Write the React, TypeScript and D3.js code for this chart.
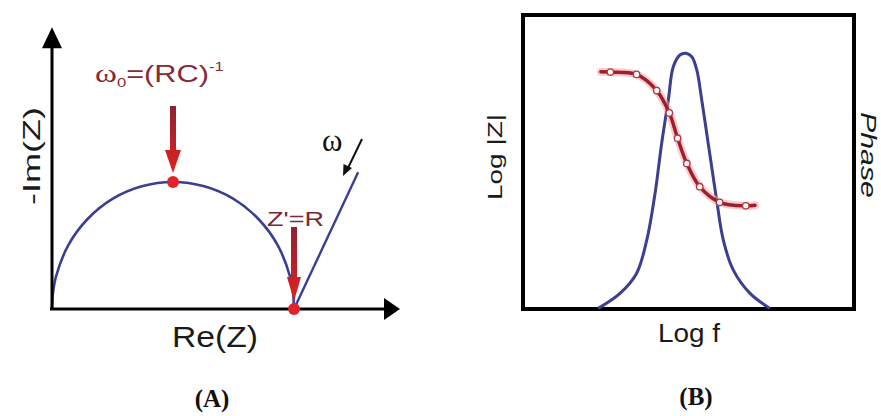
import React from 'react';
import * as d3 from 'd3';

// Panel A – Nyquist plot (Re(Z), -Im(Z)), arbitrary units (R = 10)
const nyquistRe = [0, 0.043, 0.17, 0.67, 1.46, 2.5, 3.71, 5, 6.29, 7.5, 8.54, 9.33, 9.83, 9.957, 10];
const nyquistIm = [0, 0.685, 1.36, 2.63, 3.71, 4.55, 5.07, 5.25, 5.07, 4.55, 3.71, 2.63, 1.36, 0.685, 0];
const warburgRe = [10, 12.65];
const warburgIm = [0, 5.65];
const keyPointRe = [5, 10]; // ω0 = (RC)^-1 and Z' = R
const keyPointIm = [5.25, 0];
const axisMaxRe = 14.38;
const axisMaxIm = 11.65;

// Panel B – Bode plot (Log f on 0..10 scale)
const magLogF = [2.35, 2.64, 3.43, 4.04, 4.42, 4.67, 4.95, 5.34, 5.94, 6.73, 7.01];
const magVal = [8.07, 8.06, 7.98, 7.43, 6.67, 5.81, 4.95, 4.16, 3.63, 3.51, 3.53];
const magMarkerLogF = [2.64, 3.43, 4.04, 4.42, 4.67, 4.95, 5.34, 5.94, 6.73];
const magMarkerVal = [8.06, 7.98, 7.43, 6.67, 5.81, 4.95, 4.16, 3.63, 3.51];
const phaseLogF = [2.27, 2.93, 3.43, 3.74, 3.99, 4.19, 4.39, 4.54, 4.74, 4.92, 5.1, 5.25, 5.4, 5.55, 5.7, 5.85, 6.05, 6.35, 6.86, 7.46];
const phaseVal = [0.02, 0.53, 1.21, 2.35, 3.94, 5.64, 7.11, 8.24, 8.64, 8.7, 8.58, 8.13, 7.11, 5.98, 4.84, 3.71, 2.35, 1.33, 0.53, 0.02];

const SANS = '"Liberation Sans", Arial, Helvetica, sans-serif';
const SERIF = '"Liberation Serif", "Times New Roman", serif';
const BLUE = '#3a3f91';

export default function App() {
  const W = 881, H = 416;
  const xA = d3.scaleLinear().domain([0, 10]).range([52, 294]);
  const yA = d3.scaleLinear().domain([0, 5.25]).range([309, 182]);
  const xB = d3.scaleLinear().domain([0, 10]).range([523, 854]);
  const yB = d3.scaleLinear().domain([0, 10]).range([309, 15]);

  const nyqLine = d3.line<number>()
    .x(i => xA(nyquistRe[i]))
    .y(i => yA(nyquistIm[i]))
    .curve(d3.curveCatmullRom.alpha(0.5));
  const warLine = d3.line<number>()
    .x(i => xA(warburgRe[i]))
    .y(i => yA(warburgIm[i]));
  const magLine = d3.line<number>()
    .x(i => xB(magLogF[i]))
    .y(i => yB(magVal[i]))
    .curve(d3.curveCatmullRom.alpha(0.5));
  const phaseLine = d3.line<number>()
    .x(i => xB(phaseLogF[i]))
    .y(i => yB(phaseVal[i]))
    .curve(d3.curveCatmullRom.alpha(0.5));

  const ox = xA(0), oy = yA(0);
  const axX = xA(axisMaxRe), axY = yA(axisMaxIm);

  const redArrow = (x: number, y0: number, yb: number, tip: number, hw: number) =>
    `M${x - 3},${y0} L${x + 3},${y0} L${x + 3},${yb} L${x + hw},${yb} L${x},${tip} L${x - hw},${yb} L${x - 3},${yb} Z`;

  const p0x = xA(keyPointRe[0]), p0y = yA(keyPointIm[0]);
  const p1x = xA(keyPointRe[1]), p1y = yA(keyPointIm[1]);

  return (
    <svg width={W} height={H} style={{ position: 'absolute', left: 0, top: 0, background: '#fff' }}>
      <defs>
        <linearGradient id="redgrad" x1="0" y1="0" x2="0" y2="1">
          <stop offset="0" stopColor="#8e2233" />
          <stop offset="1" stopColor="#e4201f" />
        </linearGradient>
      </defs>
      <rect width={W} height={H} fill="#fff" />

      {/* ---------- Panel A ---------- */}
      <path d={nyqLine(d3.range(nyquistRe.length)) || ''} fill="none" stroke={BLUE} strokeWidth={2.6} />
      <path d={warLine(d3.range(warburgRe.length)) || ''} fill="none" stroke={BLUE} strokeWidth={2.4} />

      {/* axes */}
      <line x1={ox} y1={oy} x2={ox} y2={axY + 20} stroke="#000" strokeWidth={3} />
      <path d={`M${ox - 10},${axY + 21} L${ox},${axY} L${ox + 10},${axY + 21} Z`} fill="#000" />
      <line x1={ox - 2} y1={oy} x2={axX - 15} y2={oy} stroke="#000" strokeWidth={3} />
      <path d={`M${axX - 16},${oy - 11} L${axX},${oy} L${axX - 16},${oy + 11} Z`} fill="#000" />

      {/* key points */}
      <circle cx={p0x} cy={p0y} r={6} fill="#e0242a" />
      <circle cx={p1x} cy={p1y} r={6} fill="#e0242a" />
      <path d={redArrow(p0x, 106, 150, 173, 8)} fill="url(#redgrad)" />
      <path d={redArrow(p1x, 227, 277, 301, 7)} fill="url(#redgrad)" />

      {/* ω direction arrow */}
      <line x1={362} y1={139} x2={348} y2={168} stroke="#111" strokeWidth={2} />
      <path d="M343,176 L343.5,164 L352,168 Z" fill="#111" />
      <text x={322} y={151} fontFamily={SERIF} fontSize={31} fill="#111">ω</text>

      {/* annotations */}
      <g transform="translate(95,82) scale(1.28,1)">
        <text fontFamily={SANS} fontSize={24} fill="#8a2833">
          <tspan fontFamily={SERIF} fontSize={26}>ω</tspan>
          <tspan fontSize={13} dy={5}>0</tspan>
          <tspan dy={-5}>=(RC)</tspan>
          <tspan fontSize={13} dy={-11}>-1</tspan>
        </text>
      </g>
      <text x={267} y={226} fontFamily={SANS} fontSize={21} fill="#7a2a36" textLength={57} lengthAdjust="spacingAndGlyphs">Z'=R</text>

      {/* axis labels */}
      <text transform="translate(40,156) rotate(-90)" textAnchor="middle" fontFamily={SANS} fontSize={24} fill="#1a1a1a" textLength={98} lengthAdjust="spacingAndGlyphs">-Im(Z)</text>
      <text x={215} y={347} textAnchor="middle" fontFamily={SANS} fontSize={29} fill="#1a1a1a" textLength={86} lengthAdjust="spacingAndGlyphs">Re(Z)</text>
      <text x={212} y={407} textAnchor="middle" fontFamily={SERIF} fontWeight="bold" fontSize={25} fill="#111">(A)</text>

      {/* ---------- Panel B ---------- */}
      <rect x={xB(0)} y={yB(10)} width={xB(10) - xB(0)} height={yB(0) - yB(10)} fill="none" stroke="#000" strokeWidth={4} />
      <path d={phaseLine(d3.range(phaseLogF.length)) || ''} fill="none" stroke={BLUE} strokeWidth={3} />
      <path d={magLine(d3.range(magLogF.length)) || ''} fill="none" stroke="#f5a3a8" strokeWidth={8} strokeOpacity={0.55} strokeLinecap="round" />
      <path d={magLine(d3.range(magLogF.length)) || ''} fill="none" stroke="#9c1f2b" strokeWidth={3.5} strokeLinecap="round" />
      {magMarkerLogF.map((f, i) => (
        <circle key={i} cx={xB(f)} cy={yB(magMarkerVal[i])} r={3.2} fill="#fff" stroke="#b8343c" strokeWidth={1.3} />
      ))}

      <text transform="translate(502,157) rotate(-90)" textAnchor="middle" fontFamily={SANS} fontSize={20} fill="#1a1a1a" textLength={86} lengthAdjust="spacingAndGlyphs">Log |Z|</text>
      <text transform="translate(861,155) rotate(90)" textAnchor="middle" fontFamily={SANS} fontStyle="italic" fontSize={22} fill="#1a1a1a" textLength={86} lengthAdjust="spacingAndGlyphs">Phase</text>
      <text x={689} y={342} textAnchor="middle" fontFamily={SANS} fontSize={25} fill="#1a1a1a" textLength={62} lengthAdjust="spacingAndGlyphs">Log f</text>
      <text x={696} y={405} textAnchor="middle" fontFamily={SERIF} fontWeight="bold" fontSize={25} fill="#111">(B)</text>
    </svg>
  );
}
